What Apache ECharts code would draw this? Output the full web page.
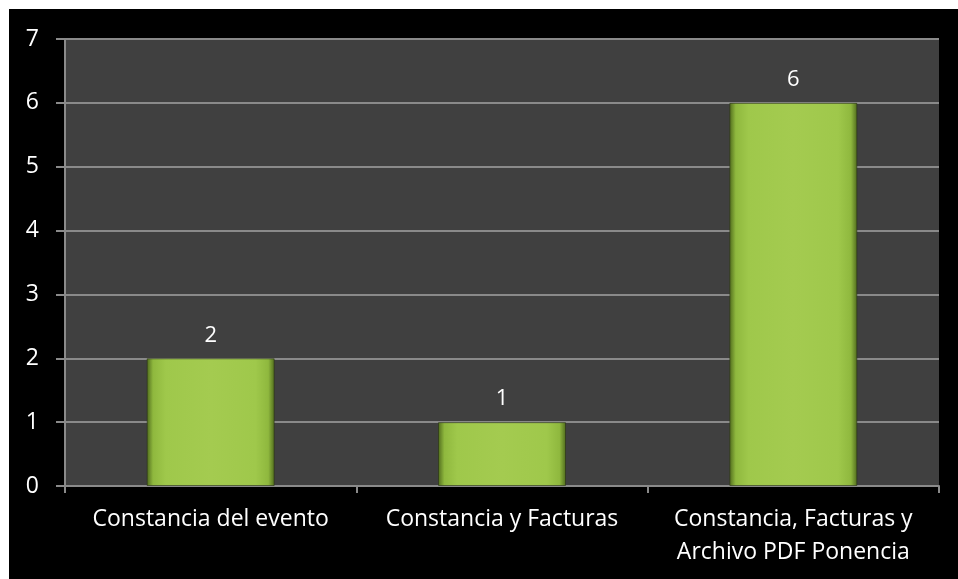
<!DOCTYPE html>
<html>
<head>
<meta charset="utf-8">
<script src="https://cdn.jsdelivr.net/npm/echarts@6/dist/echarts.min.js"></script>
<style>
  html, body { margin: 0; padding: 0; background: #ffffff; width: 958px; height: 579px; overflow: hidden; }
  #chart { position: absolute; left: 9px; top: 9px; width: 949px; height: 570px; background: #000000; }
</style>
</head>
<body>
<div id="chart"></div>
<script>
const categories = ['Constancia del evento', 'Constancia y Facturas', 'Constancia, Facturas y\nArchivo PDF Ponencia'];
const values = [2, 1, 6];
const yTicks = { min: 0, max: 7, interval: 1 };

const chart = echarts.init(document.getElementById('chart'), null, { renderer: 'canvas' });
const font = '"Open Sans", "Noto Sans", sans-serif';
chart.setOption({
  animation: false,
  backgroundColor: '#000000',
  grid: { left: 56, top: 30, width: 874, height: 447, containLabel: false, show: true, backgroundColor: '#404040', borderWidth: 0 },
  xAxis: {
    type: 'category',
    data: categories,
    boundaryGap: true,
    axisLine: { show: true, lineStyle: { color: '#8a8a8a', width: 2 } },
    axisTick: { show: true, length: 7, alignWithLabel: false, lineStyle: { color: '#8a8a8a', width: 2 } },
    axisLabel: { color: '#ffffff', fontSize: 23, fontFamily: font, margin: 17, lineHeight: 33, interval: 0 }
  },
  yAxis: {
    type: 'value',
    min: yTicks.min, max: yTicks.max, interval: yTicks.interval,
    axisLine: { show: true, lineStyle: { color: '#8a8a8a', width: 2 } },
    axisTick: { show: true, length: 9, lineStyle: { color: '#8a8a8a', width: 2 } },
    splitLine: { show: true, lineStyle: { color: '#8a8a8a', width: 2 } },
    axisLabel: { color: '#ffffff', fontSize: 23, fontFamily: font, margin: 26 }
  },
  series: [{
    type: 'bar',
    data: values,
    barWidth: 128,
    itemStyle: {
      color: new echarts.graphic.LinearGradient(0, 0, 1, 0, [
        { offset: 0, color: '#4f6a1c' },
        { offset: 0.05, color: '#8fb83e' },
        { offset: 0.15, color: '#9fc84b' },
        { offset: 0.5, color: '#a4cb50' },
        { offset: 0.85, color: '#9fc84b' },
        { offset: 0.95, color: '#8fb83e' },
        { offset: 1, color: '#4f6a1c' }
      ]),
      borderColor: 'rgba(40,50,20,0.6)',
      borderWidth: 1
    },
    label: { show: true, position: 'top', distance: 12, color: '#ffffff', fontSize: 22, fontFamily: font }
  }]
});
</script>
</body>
</html>
